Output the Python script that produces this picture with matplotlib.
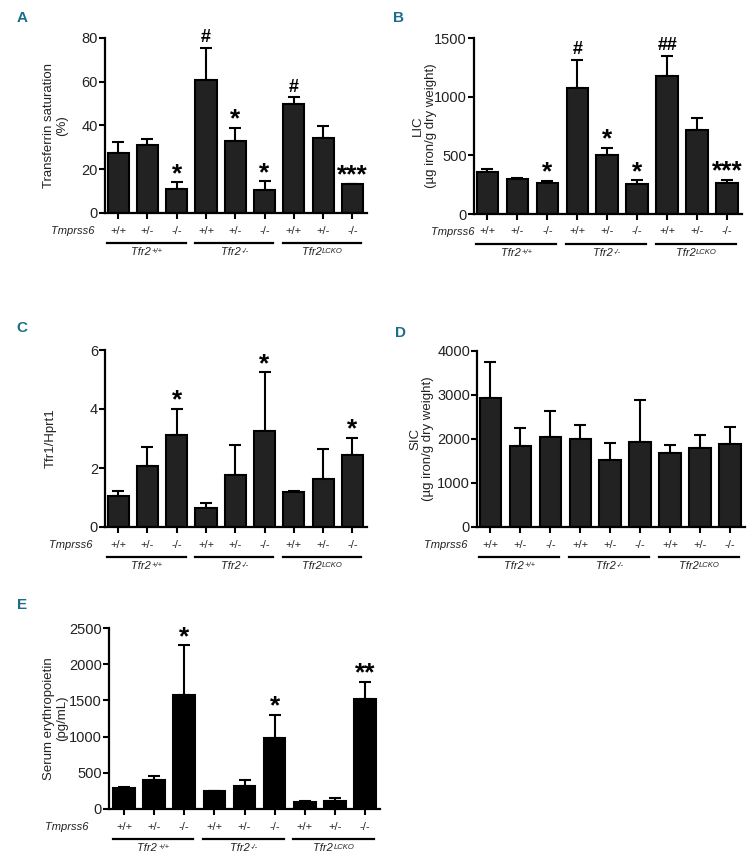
import matplotlib
matplotlib.use('Agg')
import matplotlib.pyplot as plt
import matplotlib.transforms as mtrans
import numpy as np

plt.rcParams['font.family'] = ['Liberation Sans', 'DejaVu Sans']

# ---------------- data ----------------
genotypes = ['+/+', '+/-', '-/-', '+/+', '+/-', '-/-', '+/+', '+/-', '-/-']
group_main = ['Tfr2', 'Tfr2', 'Tfr2']
group_sup = ['+/+', '-/-', 'LCKO']

tsat_mean = [27.5, 31.2, 11.1, 60.6, 33.0, 10.6, 49.6, 34.2, 13.1]
tsat_err = [4.8, 2.5, 2.9, 14.8, 6.0, 3.8, 3.2, 5.3, 0.3]
tsat_sig = ['', '', '*', '#', '*', '*', '#', '', '***']

lic_mean = [354, 300, 260, 1075, 501, 258, 1175, 716, 263]
lic_err = [28, 8, 20, 241, 65, 28, 172, 105, 29]
lic_sig = ['', '', '*', '#', '*', '*', '##', '', '***']

tfr1_mean = [1.06, 2.08, 3.11, 0.63, 1.76, 3.25, 1.18, 1.64, 2.43]
tfr1_err = [0.17, 0.62, 0.89, 0.20, 1.01, 1.99, 0.04, 1.02, 0.60]
tfr1_sig = ['', '', '*', '', '', '*', '', '', '*']

sic_mean = [2922, 1852, 2049, 1989, 1518, 1943, 1693, 1806, 1890]
sic_err = [820, 402, 577, 326, 395, 941, 167, 281, 387]
sic_sig = [''] * 9

epo_mean = [290, 405, 1570, 244, 322, 985, 97, 106, 1515]
epo_err = [14, 55, 690, 9, 83, 313, 9, 46, 239]
epo_sig = ['', '', '*', '', '', '*', '', '', '**']

W, H = 754, 861
fig = plt.figure(figsize=(W / 100, H / 100), dpi=100)
renderer = fig.canvas.get_renderer()

TEAL = '#1d6c8c'
TXT = '#222222'


def panel(letter, letter_xy, box, xlim, ylim, yticks, ylabel, ylabel_right,
          tmp_right, mean, err, sig, color, label_fs=9.5):
    left, right, top, bottom = box
    ax = fig.add_axes([left / W, 1 - bottom / H, (right - left) / W, (bottom - top) / H])
    x = np.arange(len(mean))
    ax.bar(x, mean, width=0.72, color=color, edgecolor='black', linewidth=1.5, zorder=2)
    ax.errorbar(x, mean, yerr=[np.zeros(len(mean)), err], fmt='none', ecolor='black',
                elinewidth=1.5, capsize=4, capthick=1.5, zorder=1)
    ax.set_xlim(*xlim)
    ax.set_ylim(*ylim)
    ax.set_yticks(yticks)
    ax.set_yticklabels([str(v) for v in yticks], fontsize=10.5, color=TXT)
    ax.set_xticks(x)
    ax.set_xticklabels(genotypes, fontsize=8, color=TXT)
    for s in ['top', 'right']:
        ax.spines[s].set_visible(False)
    for s in ['left', 'bottom']:
        ax.spines[s].set_linewidth(1.6)
    ax.tick_params(axis='x', direction='out', length=4, width=1.5, pad=5)
    ax.tick_params(axis='y', direction='out', length=4, width=1.5, pad=1)
    ax.set_ylabel(ylabel, fontsize=label_fs, color=TXT, linespacing=1.1)
    ax_h = bottom - top
    ax_w = right - left
    ax.yaxis.set_label_coords((ylabel_right - left) / ax_w, 0.5)

    # significance markers
    for i, s in enumerate(sig):
        if not s:
            continue
        if '*' in s:
            ax.annotate(s, (x[i], mean[i] + err[i]), xytext=(0, 1), textcoords='offset points',
                        ha='center', va='baseline', fontsize=19, fontweight='bold')
        else:
            ax.annotate(s, (x[i], mean[i] + err[i]), xytext=(0, 4), textcoords='offset points',
                        ha='center', va='baseline', fontsize=13, fontweight='bold')

    # Tmprss6 label
    fig.text(tmp_right / W, 1 - (bottom + 18) / H, 'Tmprss6', fontsize=8, style='italic',
             ha='right', va='center', color=TXT)
    # group lines and labels
    xt = ax.get_xaxis_transform()
    for g in range(3):
        x0, x1 = 3 * g - 0.38, 3 * g + 2.3
        yl = -30 / ax_h
        ax.plot([x0, x1], [yl, yl], color='black', lw=1.6, transform=xt, clip_on=False)
        tmp = fig.text(0, 0, group_sup[g], fontsize=5.5, style='italic')
        sw = tmp.get_window_extent(renderer).width
        tmp.remove()
        tr = mtrans.offset_copy(xt, fig=fig, x=-sw / 2, y=0, units='dots')
        t1 = ax.text((x0 + x1) / 2, -34 / ax_h, group_main[g], fontsize=8, style='italic',
                     ha='center', va='top', transform=tr, color=TXT)
        ax.annotate(group_sup[g], xy=(1.0, 1.0), xycoords=t1, xytext=(0.5, -1),
                    textcoords='offset points', fontsize=5.5, style='italic',
                    ha='left', va='top', color=TXT)
    fig.text(letter_xy[0] / W, 1 - letter_xy[1] / H, letter, fontsize=11, fontweight='bold',
             color=TEAL, ha='center', va='center')
    return ax


panel('A', (22, 18), (105, 367, 37.7, 213), (-0.45, 8.5), (0, 80), [0, 20, 40, 60, 80],
      'Transferrin saturation\n(%)', 68, 94, tsat_mean, tsat_err, tsat_sig, '#222222')
panel('B', (399, 18), (474, 742, 38, 214), (-0.45, 8.5), (0, 1500), [0, 500, 1000, 1500],
      'LIC\n(µg iron/g dry weight)', 437, 474, lic_mean, lic_err, lic_sig, '#222222')
panel('C', (22, 328), (105, 367, 350, 527), (-0.45, 8.5), (0, 6), [0, 2, 4, 6],
      'Tfr1/Hprt1', 57, 92, tfr1_mean, tfr1_err, tfr1_sig, '#222222')
panel('D', (400, 333), (477, 745, 351, 527), (-0.45, 8.5), (0, 4000), [0, 1000, 2000, 3000, 4000],
      'SIC\n(µg iron/g dry weight)', 434, 467, sic_mean, sic_err, sic_sig, '#222222')
panel('E', (22, 605), (109, 380, 628, 809), (-0.5, 8.5), (0, 2500), [0, 500, 1000, 1500, 2000, 2500],
      'Serum erythropoietin\n(pg/mL)', 68, 88, epo_mean, epo_err, epo_sig, '#000000')

fig.savefig('out.png', dpi=100)
